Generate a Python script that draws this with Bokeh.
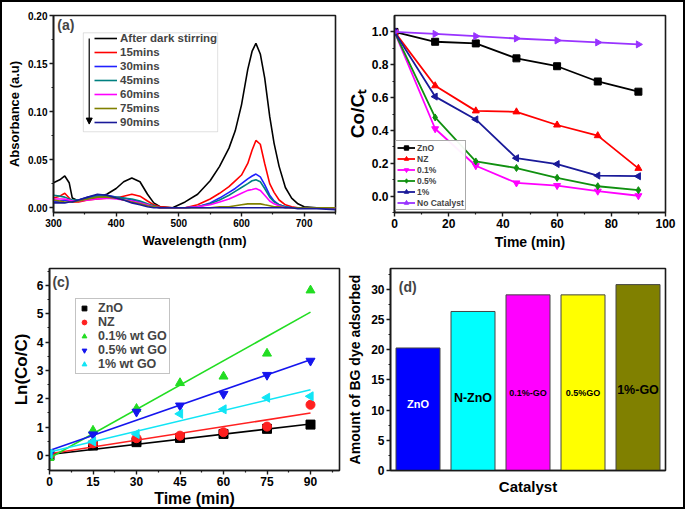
import numpy as np
from bokeh.plotting import figure
from bokeh.layouts import row, column
from bokeh.models import (Legend, LegendItem, Label, Arrow, NormalHead, BoxAnnotation,
                          FixedTicker, NumeralTickFormatter, Range1d)
from bokeh.embed import file_html
from bokeh.resources import INLINE
from bokeh.core.properties import value

FONT = "Liberation Sans"

# ---------------- Panel (a): UV-vis spectra ----------------
wavelength = [300, 310, 318, 325, 330, 340, 355, 370, 385, 400, 412, 425, 438, 450, 460, 470,
              490, 510, 530, 550, 565, 580, 590, 600, 610, 617, 623, 630, 637, 645, 652, 660,
              670, 680, 690, 700, 720, 750]
abs_dark = [0.026, 0.029, 0.033, 0.026, 0.010, 0.007, 0.009, 0.011, 0.014, 0.020, 0.027, 0.031,
            0.027, 0.014, 0.005, 0.001, 0.000, 0.006, 0.014, 0.028, 0.043, 0.062, 0.080, 0.107,
            0.144, 0.163, 0.171, 0.160, 0.135, 0.095, 0.067, 0.043, 0.021, 0.010, 0.004, 0.001,
            0.000, 0.000]
abs_15 = [0.010, 0.012, 0.015, 0.010, 0.006, 0.006, 0.008, 0.009, 0.010, 0.010, 0.012, 0.014,
          0.012, 0.007, 0.003, 0.001, 0.000, 0.000, 0.003, 0.009, 0.015, 0.022, 0.028, 0.034,
          0.046, 0.060, 0.070, 0.066, 0.046, 0.025, 0.016, 0.008, 0.003, 0.001, 0.000, 0.000,
          0.000, 0.000]
abs_30 = [0.006, 0.007, 0.008, 0.007, 0.007, 0.008, 0.011, 0.013, 0.013, 0.011, 0.010, 0.008,
          0.006, 0.003, 0.001, 0.000, 0.000, 0.000, 0.001, 0.005, 0.010, 0.016, 0.020, 0.025,
          0.030, 0.033, 0.035, 0.032, 0.024, 0.013, 0.007, 0.003, 0.001, 0.000, 0.000, 0.000,
          0.000, 0.000]
abs_45 = [0.013, 0.012, 0.011, 0.009, 0.008, 0.008, 0.010, 0.012, 0.012, 0.011, 0.010, 0.009,
          0.007, 0.004, 0.002, 0.000, 0.000, 0.000, 0.001, 0.004, 0.008, 0.013, 0.017, 0.021,
          0.025, 0.028, 0.029, 0.027, 0.020, 0.011, 0.006, 0.003, 0.001, 0.000, 0.000, 0.000,
          0.000, 0.000]
abs_60 = [0.009, 0.009, 0.009, 0.008, 0.007, 0.007, 0.008, 0.009, 0.010, 0.009, 0.008, 0.007,
          0.005, 0.003, 0.001, 0.000, 0.000, 0.000, 0.001, 0.003, 0.006, 0.009, 0.012, 0.015,
          0.018, 0.019, 0.020, 0.018, 0.013, 0.007, 0.004, 0.002, 0.000, 0.000, 0.000, 0.000,
          0.000, 0.000]
abs_75 = [0.008, 0.007, 0.006, 0.006, 0.006, 0.007, 0.009, 0.011, 0.011, 0.010, 0.008, 0.006,
          0.004, 0.002, 0.001, 0.000, 0.000, 0.000, 0.000, 0.000, 0.001, 0.001, 0.002, 0.003,
          0.004, 0.004, 0.004, 0.004, 0.003, 0.002, 0.001, 0.001, 0.000, 0.000, 0.000, 0.000,
          0.000, 0.000]
abs_90 = [0.005, 0.005, 0.005, 0.006, 0.006, 0.008, 0.011, 0.014, 0.013, 0.010, 0.008, 0.005,
          0.003, 0.001, 0.000, 0.000, 0.000, 0.000, 0.000, 0.000, 0.000, 0.000, 0.000, 0.000,
          0.000, 0.000, 0.000, 0.000, 0.000, 0.000, 0.000, 0.000, 0.000, 0.000, -0.001, -0.001,
          -0.001, -0.002]
spectra_labels = ["After dark stirring", "15mins", "30mins", "45mins", "60mins", "75mins", "90mins"]
spectra_colors = ["#000000", "#FF0000", "#2020FF", "#008080", "#FF00FF", "#808000", "#1A1A99"]
spectra = [abs_dark, abs_15, abs_30, abs_45, abs_60, abs_75, abs_90]
a_xticks = [300, 400, 500, 600, 700]
a_yticks = [0.00, 0.05, 0.10, 0.15, 0.20]

# ---------------- Panel (b): Co/Ct vs time ----------------
time_b = [0, 15, 30, 45, 60, 75, 90]
b_zno = [1.0, 0.940, 0.930, 0.839, 0.791, 0.698, 0.636]
b_nz = [1.0, 0.672, 0.519, 0.513, 0.433, 0.368, 0.169]
b_01 = [1.0, 0.410, 0.185, 0.080, 0.064, 0.030, 0.002]
b_05 = [1.0, 0.479, 0.211, 0.171, 0.111, 0.060, 0.036]
b_1 = [1.0, 0.606, 0.467, 0.231, 0.195, 0.125, 0.121]
b_nocat = [1.0, 0.988, 0.974, 0.960, 0.948, 0.936, 0.924]
b_labels = ["ZnO", "NZ", "0.1%", "0.5%", "1%", "No Catalyst"]
b_colors = ["#000000", "#FF0000", "#FF00FF", "#109010", "#1A1A99", "#9933FF"]
b_markers = ["square", "triangle", "inverted_triangle", "diamond", "triangle", "triangle"]
b_angles = [0, 0, 0, 0, np.pi / 2, -np.pi / 2]
b_series = [b_zno, b_nz, b_01, b_05, b_1, b_nocat]

# ---------------- Panel (c): ln(Co/C) kinetics ----------------
time_c = [0, 15, 30, 45, 60, 75, 90]
c_zno = [0.00, 0.35, 0.47, 0.62, 0.76, 0.94, 1.09]
c_nz = [0.00, 0.43, 0.61, 0.70, 0.82, 1.02, 1.79]
c_01 = [-0.08, 0.88, 1.65, 2.56, 2.79, 3.60, 5.83]
c_05 = [0.04, 0.74, 1.54, 1.76, 2.17, 2.84, 3.34]
c_1 = [0.06, 0.49, 0.76, 1.47, 1.63, 2.04, 2.09]
fit_t = [0, 90]
fit_start = [0.035, 0.06, -0.09, 0.18, 0.12]
fit_end = [1.11, 1.50, 5.06, 3.38, 2.32]
c_labels = ["ZnO", "NZ", "0.1% wt GO", "0.5% wt GO", "1% wt GO"]
c_colors = ["#000000", "#FF2020", "#22DD22", "#1515EE", "#11E5F5"]
c_markers = ["square", "circle", "triangle", "inverted_triangle", "triangle"]
c_angles = [0, 0, 0, 0, np.pi / 2]
c_series = [c_zno, c_nz, c_01, c_05, c_1]
c_xticks = [0, 15, 30, 45, 60, 75, 90]
c_yticks = [0, 1, 2, 3, 4, 5, 6]

# ---------------- Panel (d): adsorbed dye ----------------
catalysts = ["ZnO", "N-ZnO", "0.1%-GO", "0.5%GO", "1%-GO"]
amount = [20.3, 26.35, 29.1, 29.1, 30.8]
bar_colors = ["#0000FF", "#00FFFF", "#FF00FF", "#FFFF00", "#808000"]
d_yticks = [0, 5, 10, 15, 20, 25, 30]


def style(p, tick_px, title_px):
    p.outline_line_color = "#1a1a1a"
    p.outline_line_width = 1.6
    p.grid.visible = False
    p.background_fill_color = "white"
    p.border_fill_alpha = 0
    for ax in p.axis:
        ax.axis_line_color = "#1a1a1a"
        ax.axis_line_width = 1.6
        ax.major_tick_line_color = "#1a1a1a"
        ax.minor_tick_line_color = "#1a1a1a"
        ax.major_tick_line_width = 1.4
        ax.minor_tick_line_width = 1.2
        ax.major_tick_out = 4
        ax.major_tick_in = 0
        ax.minor_tick_out = 2
        ax.minor_tick_in = 0
        ax.major_label_standoff = 2
        ax.major_label_text_font = FONT
        ax.major_label_text_font_style = "bold"
        ax.major_label_text_font_size = f"{tick_px}px"
        ax.major_label_text_color = "black"
        ax.axis_label_text_font = FONT
        ax.axis_label_text_font_style = "bold"
        ax.axis_label_text_font_size = f"{title_px}px"
        ax.axis_label_text_color = "black"
        ax.axis_label_standoff = 3


# ---------- (a) ----------
pa = figure(width=343, height=252, x_range=Range1d(300, 750), y_range=Range1d(-0.005, 0.2),
            output_backend="svg", toolbar_location=None,
            min_border_left=53, min_border_right=8, min_border_top=15, min_border_bottom=35)
style(pa, 10, 13)
pa.xaxis.axis_label = "Wavelength (nm)"
pa.yaxis.axis_label = "Absorbance (a.u)"
pa.xaxis.ticker = FixedTicker(ticks=a_xticks, minor_ticks=[350, 450, 550, 650, 750])
pa.yaxis.ticker = FixedTicker(ticks=a_yticks, minor_ticks=[0.025, 0.075, 0.125, 0.175])
pa.yaxis.formatter = NumeralTickFormatter(format="0.00")
a_items = []
for lab, col, ys in zip(spectra_labels, spectra_colors, spectra):
    r = pa.line(wavelength, ys, line_color=col, line_width=1.6)
    a_items.append(LegendItem(label=lab, renderers=[r]))
leg_a = Legend(items=a_items, location=(41, 83), label_text_font=FONT,
               label_text_font_style="bold", label_text_font_size="11.5px",
               glyph_width=23, glyph_height=14, label_height=14, spacing=0, padding=1,
               label_standoff=3, border_line_color=None, background_fill_alpha=0)
pa.add_layout(leg_a)
pa.add_layout(BoxAnnotation(left=347.6, right=562, top=0.182, bottom=0.079,
                            fill_alpha=0, line_color="#999999", line_width=1))
pa.add_layout(Arrow(end=NormalHead(size=6, fill_color="black", line_color="black"),
                    x_start=357, y_start=0.176, x_end=357, y_end=0.087, line_width=1.2))
pa.add_layout(Label(x=306, y=0.198, text="(a)", text_baseline="top", text_font=FONT,
                    text_font_style="bold", text_font_size="14px"))

# ---------- (b) ----------
pb = figure(width=342, height=252, x_range=Range1d(0, 100), y_range=Range1d(-0.1, 1.1),
            output_backend="svg", toolbar_location=None,
            min_border_left=46, min_border_right=20, min_border_top=15, min_border_bottom=36)
style(pb, 12, 14)
pb.xaxis.axis_label = "Time (min)"
pb.yaxis.axis_label = "Co/Cₜ"
pb.yaxis.axis_label_text_font_size = "19px"
pb.yaxis.axis_label_standoff = 1
pb.xaxis.ticker = FixedTicker(ticks=[0, 20, 40, 60, 80, 100], minor_ticks=[10, 30, 50, 70, 90])
pb.yaxis.ticker = FixedTicker(ticks=[0.0, 0.2, 0.4, 0.6, 0.8, 1.0],
                              minor_ticks=[-0.1, 0.1, 0.3, 0.5, 0.7, 0.9])
pb.yaxis.formatter = NumeralTickFormatter(format="0.0")
b_items = []
for lab, col, mk, ang, ys in zip(b_labels, b_colors, b_markers, b_angles, b_series):
    rl = pb.line(time_b, ys, line_color=col, line_width=1.8)
    rs = pb.scatter(time_b, ys, marker=mk, angle=ang, size=7, fill_color=col, line_color=col)
    b_items.append(LegendItem(label=lab, renderers=[rl, rs]))
leg_b = Legend(items=b_items, location=(1, 2), label_text_font=FONT,
               label_text_font_style="bold", label_text_font_size="8.5px",
               glyph_width=18, glyph_height=11, label_height=11, spacing=0, padding=1,
               label_standoff=2, border_line_color="#555555", border_line_width=1,
               background_fill_color="white")
pb.add_layout(leg_b)

# ---------- (c) ----------
pc = figure(width=343, height=257, x_range=Range1d(0, 100), y_range=Range1d(-0.53, 6.6),
            output_backend="svg", toolbar_location=None,
            min_border_left=49, min_border_right=4, min_border_top=15, min_border_bottom=39)
style(pc, 12, 16)
pc.xaxis.axis_label = "Time (min)"
pc.yaxis.axis_label = "Ln(Co/C)"
pc.yaxis.axis_label_text_font_size = "17px"
pc.xaxis.axis_label_standoff = 1
pc.xaxis.major_label_standoff = 2
pc.xaxis.ticker = FixedTicker(ticks=c_xticks,
                              minor_ticks=[7.5, 22.5, 37.5, 52.5, 67.5, 82.5, 97.5])
pc.yaxis.ticker = FixedTicker(ticks=c_yticks,
                              minor_ticks=[-0.5, 0.5, 1.5, 2.5, 3.5, 4.5, 5.5, 6.5])
c_items = []
for i, (lab, col, mk, ang, ys) in enumerate(zip(c_labels, c_colors, c_markers, c_angles, c_series)):
    pc.line(fit_t, [fit_start[i], fit_end[i]], line_color=col, line_width=1.6)
    rs = pc.scatter(time_c, ys, marker=mk, angle=ang, size=9, fill_color=col, line_color=col)
    c_items.append(LegendItem(label=lab, renderers=[rs]))
leg_c = Legend(items=c_items, location=(26, 96), label_text_font=FONT,
               label_text_font_style="bold", label_text_font_size="12.5px",
               glyph_width=12, glyph_height=14, label_height=14, spacing=0, padding=2,
               label_standoff=8, border_line_color="#888888", border_line_width=1,
               background_fill_color="white")
pc.add_layout(leg_c)
pc.add_layout(Label(x=1, y=6.42, text="(c)", text_baseline="top", text_font=FONT,
                    text_font_style="bold", text_font_size="14px"))

# ---------- (d) ----------
pd_ = figure(width=342, height=257, x_range=Range1d(0, len(catalysts)), y_range=Range1d(0, 33.47),
             output_backend="svg", toolbar_location=None,
             min_border_left=47, min_border_right=20, min_border_top=16, min_border_bottom=38)
style(pd_, 12, 14)
pd_.xaxis.axis_label = "Catalyst"
pd_.yaxis.axis_label = "Amount of BG dye adsorbed"
pd_.yaxis.axis_label_standoff = 5
pd_.xaxis.axis_label_standoff = 7
pd_.xaxis.axis_label_text_font_size = "15px"
pd_.xaxis.ticker = FixedTicker(ticks=[], minor_ticks=[])
pd_.yaxis.ticker = FixedTicker(ticks=d_yticks,
                               minor_ticks=[2.5, 7.5, 12.5, 17.5, 22.5, 27.5, 32.5])
bar_x = [i + 0.5 for i in range(len(catalysts))]
pd_.vbar(x=bar_x, top=amount, width=0.8, fill_color=bar_colors, line_color="#444444",
         line_width=1)
label_y = [11.0, 12.0, 12.9, 12.9, 13.3]
label_colors = ["white", "black", "black", "black", "black"]
label_sizes = ["11px", "12.5px", "9px", "9px", "12.5px"]
for x, y, t, c, s in zip(bar_x, label_y, catalysts, label_colors, label_sizes):
    pd_.add_layout(Label(x=x, y=y, text=t, text_align="center", text_baseline="middle",
                         text_font=FONT, text_font_style="bold", text_font_size=s,
                         text_color=c))
pd_.add_layout(Label(x=0.15, y=31.7, text="(d)", text_baseline="top", text_font=FONT,
                     text_font_style="bold", text_font_size="14px"))

layout = column(row(pa, pb), row(pc, pd_),
                styles={"background-color": "white",
                        "box-shadow": "inset 0 0 0 2px black"})
open("out.html", "w").write(file_html(layout, INLINE))
